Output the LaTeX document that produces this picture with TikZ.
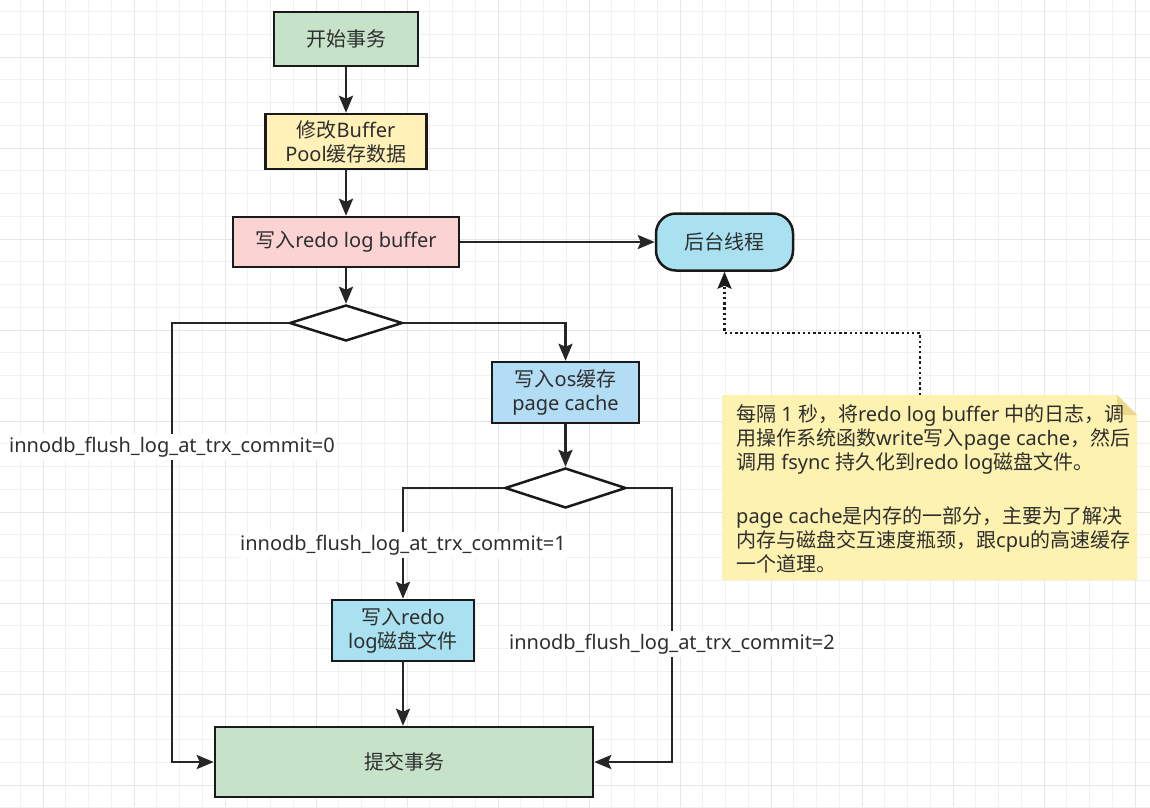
\documentclass[tikz,border=0pt]{standalone}
\usepackage{fontspec}
\setmainfont{Noto Sans}
\newfontfamily\cjkfont{Noto Sans CJK SC}
\usetikzlibrary{shapes.geometric,arrows.meta}

% Han characters and CJK punctuation switch to the CJK face automatically
\newXeTeXintercharclass\cjkcls
\newcount\cjkcp
\cjkcp="3000 \loop \XeTeXcharclass\cjkcp=\cjkcls \advance\cjkcp 1 \ifnum\cjkcp<"3040 \repeat
\cjkcp="4E00 \loop \XeTeXcharclass\cjkcp=\cjkcls \advance\cjkcp 1 \ifnum\cjkcp<"A000 \repeat
\cjkcp="FF00 \loop \XeTeXcharclass\cjkcp=\cjkcls \advance\cjkcp 1 \ifnum\cjkcp<"FFF0 \repeat
\XeTeXinterchartoks 0 \cjkcls={\cjkfont}
\XeTeXinterchartoks 4095 \cjkcls={\cjkfont}
\XeTeXinterchartoks \cjkcls 0={\rmfamily}
\XeTeXinterchartoks \cjkcls 4095={\rmfamily}
\XeTeXinterchartokenstate=1

\definecolor{ink}{HTML}{2E2E2E}
\definecolor{edge}{HTML}{1A1A1A}
\definecolor{linecol}{HTML}{262626}
\definecolor{gridminor}{HTML}{F1F1F1}
\definecolor{gridmajor}{HTML}{E6E6E6}
\definecolor{greenfill}{HTML}{C6E2C9}
\definecolor{yellowfill}{HTML}{FFF1B8}
\definecolor{pinkfill}{HTML}{FCD3D3}
\definecolor{bluefill}{HTML}{B3DCF5}
\definecolor{cyanfill}{HTML}{A9E1F0}
\definecolor{notefill}{HTML}{FDF2B0}
\definecolor{notefold}{HTML}{EAD98E}

\tikzset{
  txt/.style={text=ink, font=\fontsize{20}{24}\selectfont},
  procbox/.style={txt, draw=edge, line width=2.5pt, align=center, inner sep=2pt},
  decision/.style={draw=edge, line width=2.5pt, fill=white, diamond, inner sep=0pt},
  flow/.style={draw=linecol, line width=2.5pt, -{Stealth[length=17pt,width=14pt,inset=3pt]}},
  dotflow/.style={draw=edge, line width=2.4pt, dash pattern=on 2.4pt off 2.8pt,
    -{Stealth[length=17pt,width=14pt,inset=3pt]}},
  lbl/.style={txt, fill=white, inner xsep=1pt, inner ysep=3pt},
}

\begin{document}
\begin{tikzpicture}[x=1pt, y=-1pt]
  \useasboundingbox (0,0) rectangle (1150,807);
  \fill[white] (0,0) rectangle (1150,807);

  % background grid
  \foreach \i in {0,...,50}
    \draw[gridminor, line width=1pt] ({20.25+22.75*\i},0) -- ({20.25+22.75*\i},807);
  \foreach \i in {0,...,35}
    \draw[gridminor, line width=1pt] (0,{11.5+22.75*\i}) -- (1150,{11.5+22.75*\i});
  \foreach \i in {0,...,12}
    \draw[gridmajor, line width=1pt] ({43+91*\i},0) -- ({43+91*\i},807);
  \foreach \i in {0,...,8}
    \draw[gridmajor, line width=1pt] (0,{57+91*\i}) -- (1150,{57+91*\i});

  % process steps
  \node[procbox, fill=greenfill, minimum width=144, minimum height=54] (start) at (346,39) {开始事务};
  \node[procbox, fill=yellowfill, minimum width=161, minimum height=55] (modify) at (346,141.5) {修改Buffer\\Pool缓存数据};
  \node[procbox, fill=pinkfill, minimum width=226, minimum height=50] (rlb) at (346,242) {写入redo log buffer};
  \node[procbox, fill=cyanfill, rounded corners=20pt, minimum width=137, minimum height=57] (bg) at (724.5,242) {后台线程};
  \node[decision, minimum width=113, minimum height=36] (d1) at (346,323) {};
  \node[procbox, fill=bluefill, minimum width=147, minimum height=61] (os) at (565.5,392.5) {写入os缓存\\page cache};
  \node[decision, minimum width=121, minimum height=40] (d2) at (565.5,488) {};
  \node[procbox, fill=cyanfill, minimum width=142, minimum height=61] (disk) at (403,630.5) {写入redo\\log磁盘文件};
  \node[procbox, fill=greenfill, minimum width=378, minimum height=70] (commit) at (404,762) {提交事务};

  % sticky note with folded corner
  \fill[notefill] (722,395) -- (1117,395) -- (1137,415) -- (1137,580) -- (722,580) -- cycle;
  \fill[notefold] (1117,395) -- (1117,415) -- (1137,415) -- cycle;
  \node[txt, align=left, anchor=north west, inner sep=0pt] (note) at (736,404)
    {每隔 1 秒，将redo log buffer 中的日志，调\\
     用操作系统函数write写入page cache，然后\\
     调用 fsync 持久化到redo log磁盘文件。\\[30pt]
     page cache是内存的一部分，主要为了解决\\
     内存与磁盘交互速度瓶颈，跟cpu的高速缓存\\
     一个道理。};
  \coordinate (tap) at (920,395);

  % connectors
  \draw[flow] (start) -- (modify);
  \draw[flow] (modify) -- (rlb);
  \draw[flow] (rlb) -- (bg);
  \draw[flow] (rlb) -- (d1);
  \draw[flow] (d1.west) -- (172,323) |- (commit.west);
  \draw[flow] (d1.east) -| (os.north);
  \draw[flow] (os) -- (d2);
  \draw[flow] (d2.west) -| (disk.north);
  \draw[flow] (d2.east) -- (672,488) |- (commit.east);
  \draw[flow] (disk.south) -- (disk.south |- commit.north);
  \draw[dotflow] (tap) -- (920,333) -| (bg.south);

  % branch labels
  \node[lbl] (l0) at (172,447) {innodb\_flush\_log\_at\_trx\_commit=0};
  \node[lbl] (l1) at (403,545) {innodb\_flush\_log\_at\_trx\_commit=1};
  \node[lbl] (l2) at (672,644) {innodb\_flush\_log\_at\_trx\_commit=2};
\end{tikzpicture}
\end{document}
